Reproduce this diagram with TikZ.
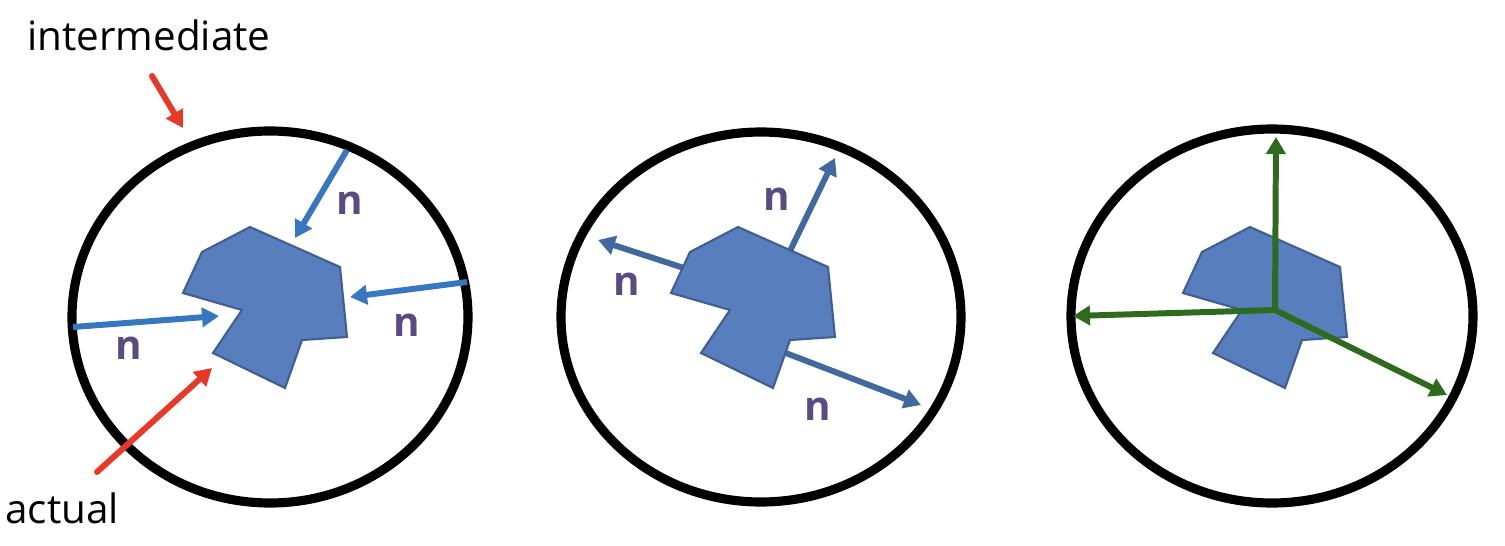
\documentclass[tikz,border=0pt]{standalone}
\usepackage{fontspec}
\setmainfont{Open Sans}
\usetikzlibrary{arrows.meta, positioning}

\definecolor{shapefill}{RGB}{88,126,190}
\definecolor{shapeline}{RGB}{63,94,148}
\definecolor{nblue}{RGB}{55,118,192}
\definecolor{nsteel}{RGB}{65,105,158}
\definecolor{nlabel}{RGB}{90,75,130}
\definecolor{pointer}{RGB}{232,56,40}
\definecolor{axis}{RGB}{46,107,30}

\begin{document}
\begin{tikzpicture}[
  x=0.02cm, y=-0.02cm,
  font=\fontsize{23}{27}\selectfont,
  rim/.style={draw=black, line width=5.2pt},
  blob/.style={draw=shapeline, fill=shapefill, line width=1.2pt, line join=miter},
  arr/.style={line width=3.4pt, -{Triangle[length=0.34cm, width=0.38cm]}},
  inarr/.style={arr, draw=nblue},
  outarr/.style={arr, draw=nsteel},
  redarr/.style={arr, draw=pointer, line cap=round},
  axarr/.style={arr, draw=axis, line join=miter},
  nlab/.style={text=nlabel, font=\fontsize{23}{27}\selectfont\bfseries, inner sep=0pt},
  word/.style={inner sep=0pt}
]
\useasboundingbox (0,0) rectangle (1505,545);

% outer circles
\draw[rim] (270,317) ellipse [x radius=198, y radius=186];
\draw[rim] (761,317) ellipse [x radius=200, y radius=185];
\draw[rim] (1272,316) ellipse [x radius=201, y radius=187];

% panel 2 normals (behind the shape)
\coordinate (s2a) at (788,255);
\coordinate (t2a) at (835,158);
\coordinate (s2b) at (690,270);
\coordinate (t2b) at (598,240);
\coordinate (s2c) at (778,350);
\coordinate (t2c) at (921,405);
\draw[outarr] (s2a) -- (t2a);
\draw[outarr] (s2b) -- (t2b);
\draw[outarr] (s2c) -- (t2c);

% the shapes
\foreach \dx in {0,488,1000} {
  \draw[blob, xshift=\dx*0.02cm] (250,227) -- (202,252) -- (183,293) -- (242,310)
    -- (213,353) -- (285,388) -- (302,340) -- (347,337) -- (340,267) -- cycle;
}

% panel 1 normals
\coordinate (s1a) at (347,150);
\coordinate (t1a) at (295,238);
\coordinate (s1b) at (467,282);
\coordinate (t1b) at (350,297);
\coordinate (s1c) at (73,327);
\coordinate (t1c) at (219,316);
\draw[inarr] (s1a) -- (t1a);
\draw[inarr] (s1b) -- (t1b);
\draw[inarr] (s1c) -- (t1c);

\node[nlab] (n1a) at (350,203) {n};
\node[nlab] (n1b) at (407,325) {n};
\node[nlab] (n1c) at (129,348) {n};
\node[nlab] (n2a) at (777,199) {n};
\node[nlab] (n2b) at (627,284) {n};
\node[nlab] (n2c) at (818,409) {n};

% labels and pointers
\node[word, anchor=base west] (inter) at (27,50) {intermediate};
\node[word, anchor=base west] (act) at (5,523) {actual};
\coordinate (pi0) at (152,76);
\coordinate (pi1) at (183,128);
\coordinate (pa0) at (97,472);
\coordinate (pa1) at (212,368);
\draw[redarr] (pi0) -- (pi1);
\draw[redarr] (pa0) -- (pa1);

% panel 3 axes
\coordinate (o3) at (1275,310);
\coordinate (ax3) at (1276,137);
\coordinate (ay3) at (1073,316);
\coordinate (az3) at (1447,395);
\draw[axarr] (o3) -- (ax3);
\draw[axarr] (o3) -- (ay3);
\draw[axarr] (o3) -- (az3);
\end{tikzpicture}
\end{document}
